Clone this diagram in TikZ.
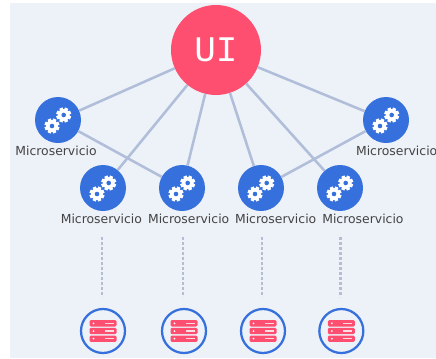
\documentclass[tikz,border=0pt]{standalone}
\usepackage{fontspec}
\setmainfont{DejaVu Sans}
\newfontfamily\uifont{Liberation Mono}
\definecolor{panelbg}{HTML}{EDF1F8}
\definecolor{uired}{HTML}{FF4F70}
\definecolor{micblue}{HTML}{3570DC}
\definecolor{edgeblue}{HTML}{B0BEDA}
\definecolor{dotgray}{HTML}{B4BDD2}
\definecolor{labelgray}{HTML}{444444}
\tikzstyle{every node}=[font=\fontsize{9.3pt}{11pt}\selectfont]
\tikzstyle{ui} = [circle, fill=uired, text=white, minimum size=67.5pt, inner sep=0pt, font=\uifont\fontsize{27pt}{30pt}\selectfont]
\tikzstyle{micro} = [circle, fill=micblue, minimum size=34.5pt, inner sep=0pt, node distance=59.25pt]
\tikzstyle{store} = [circle, draw=micblue, line width=1.7pt, fill=panelbg, minimum size=33pt, inner sep=0pt, node distance=107.25pt]
\tikzstyle{tag} = [text=labelgray, inner sep=0pt, node distance=22.8pt]
\tikzstyle{line} = [draw=edgeblue, line width=1.9pt]
\tikzstyle{dots} = [draw=dotgray, line width=2.1pt, dash pattern=on 2.1pt off 1.65pt]
\tikzset{
  gear/.pic={
    \foreach \a in {0,45,...,315}
      \fill [white, rotate=\a+22] (-1.7,4) rectangle (1.7,7.5);
    \fill [white] (0,0) circle (6);
    \fill [micblue] (0,0) circle (2.3);
  },
  gears/.pic={
    \pic at (-6,6) {gear};
    \pic at (5.7,-5) {gear};
  },
  rack/.pic={
    \fill [uired, rounded corners=1pt] (-13.5,-3.2) rectangle (13.5,3.2);
    \fill [white] (-9.5,0) circle (1);
    \draw [white!80!uired, line width=.8pt] (2,0) -- (10.5,0);
  },
  racks/.pic={
    \pic at (0,-7.7) {rack};
    \pic at (0,0) {rack};
    \pic at (0,7.7) {rack};
  }
}

\begin{document}
\begin{tikzpicture}[x=.75pt, y=-.75pt]
    \useasboundingbox (0,0) rectangle (436,358);
    \fill [panelbg] (10,3) rectangle (436,358);
    % Place nodes
    \node [ui] (ui) at (216,50) {UI};
    \node [micro] (micA) at (58,120) {};
    \node [micro] (micB) at (103,188) {};
    \node [micro, right of=micB] (micC) {};
    \node [micro, right of=micC] (micD) {};
    \node [micro, right of=micD] (micE) {};
    \node [micro] (micF) at (386,120) {};
    \node [store, below of=micB] (stoA) {};
    \node [store, below of=micC, xshift=1.5pt] (stoB) {};
    \node [store, below of=micD, xshift=1.5pt] (stoC) {};
    \node [store, below of=micE, xshift=1pt] (stoD) {};
    \node [tag, below of=micA, xshift=-1.5pt] (tagA) {Microservicio};
    \node [tag, below of=micB, xshift=-1.2pt] (tagB) {Microservicio};
    \node [tag, below of=micC, xshift=5pt] (tagC) {Microservicio};
    \node [tag, below of=micD, xshift=11pt] (tagD) {Microservicio};
    \node [tag, below of=micE, xshift=17.2pt] (tagE) {Microservicio};
    \node [tag, below of=micF, xshift=8pt] (tagF) {Microservicio};
    % Icons
    \foreach \n in {micA,micB,micC,micD,micE,micF}
      \pic at (\n) {gears};
    \foreach \n in {stoA,stoB,stoC,stoD}
      \pic at (\n) {racks};
    % Free ends of the dotted lines
    \coordinate [above of=stoA, node distance=25.5pt, xshift=-.75pt] (endA);
    \coordinate [above of=stoB, node distance=25.5pt, xshift=-.75pt] (endB);
    \coordinate [above of=stoC, node distance=25.5pt, xshift=-.75pt] (endC);
    \coordinate [above of=stoD, node distance=25.5pt, xshift=-.75pt] (endD);
    \coordinate [above of=endA, node distance=45pt] (topA);
    \coordinate [above of=endB, node distance=45pt] (topB);
    \coordinate [above of=endC, node distance=45pt] (topC);
    \coordinate [above of=endD, node distance=45pt] (topD);
    % Draw edges
    \path [line] (ui) -- (micA);
    \path [line] (ui) -- (micB);
    \path [line] (ui) -- (micC);
    \path [line] (ui) -- (micD);
    \path [line] (ui) -- (micE);
    \path [line] (ui) -- (micF);
    \path [line] (micA) -- (micC);
    \path [line] (micF) -- (micD);
    \path [dots] (topA) -- (endA);
    \path [dots] (topB) -- (endB);
    \path [dots] (topC) -- (endC);
    \path [dots] (topD) -- (endD);
\end{tikzpicture}
\end{document}
